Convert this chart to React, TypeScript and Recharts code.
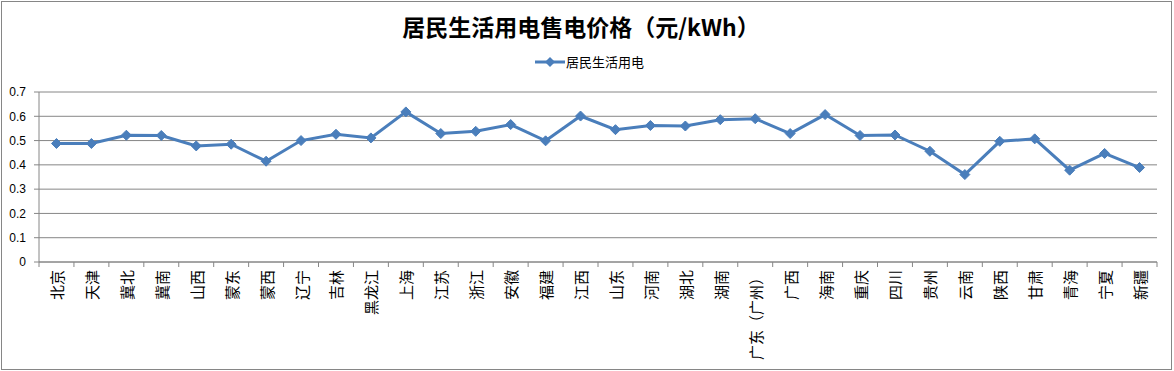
import { CartesianGrid, Line, LineChart, XAxis, YAxis } from "recharts";

const provinces = [
  "北京", "天津", "冀北", "冀南", "山西", "蒙东", "蒙西", "辽宁", "吉林", "黑龙江", "上海",
  "江苏", "浙江", "安徽", "福建", "江西", "山东", "河南", "湖北", "湖南", "广东（广州）",
  "广西", "海南", "重庆", "四川", "贵州", "云南", "陕西", "甘肃", "青海", "宁夏", "新疆",
];

const prices = [
  0.488, 0.488, 0.522, 0.521, 0.478, 0.485, 0.415, 0.5, 0.526, 0.511, 0.618,
  0.529, 0.538, 0.566, 0.499, 0.601, 0.545, 0.562, 0.56, 0.586, 0.59,
  0.529, 0.607, 0.521, 0.523, 0.456, 0.36, 0.497, 0.507, 0.378, 0.447, 0.389,
];

const yTicks = [0, 0.1, 0.2, 0.3, 0.4, 0.5, 0.6, 0.7];

const seriesName = "居民生活用电";
const title = "居民生活用电售电价格（元/kWh）";

const data = provinces.map((name, i) => ({ name, v: prices[i] }));

const BLUE = "#4A7EBB";
const GRID = "#868686";
const CJK = '"Noto Sans CJK SC", "Noto Sans", sans-serif';

const W = 1169;
const H = 367;
const M = { top: 90, right: 14, bottom: 0, left: 0 };
const Y_W = 37;
const X_H = 107;
const STEP = (W - M.left - M.right - Y_W) / provinces.length;

function Diamond(props: any) {
  const { cx, cy } = props;
  if (cx == null || cy == null) return null;
  const r = 5;
  return (
    <path
      d={`M${cx},${cy - r} L${cx + r},${cy} L${cx},${cy + r} L${cx - r},${cy} Z`}
      fill={BLUE}
      stroke={BLUE}
    />
  );
}

function XTick(props: any) {
  const { x, y, payload, index } = props;
  const axisY = y - 10;
  return (
    <g>
      <line x1={x - STEP / 2} x2={x - STEP / 2} y1={axisY} y2={axisY + 5} stroke={GRID} />
      {index === provinces.length - 1 && (
        <line x1={x + STEP / 2} x2={x + STEP / 2} y1={axisY} y2={axisY + 5} stroke={GRID} />
      )}
      <text
        transform={`translate(${x},${axisY + 8}) rotate(-90)`}
        textAnchor="end"
        dominantBaseline="central"
        fontFamily={CJK}
        fontSize={15}
        fill="#000"
      >
        {payload.value}
      </text>
    </g>
  );
}

export default function App() {
  return (
    <div
      style={{
        position: "absolute",
        left: 1,
        top: 1,
        width: 1171,
        height: 369,
        boxSizing: "border-box",
        border: `1px solid ${GRID}`,
        background: "#fff",
      }}
    >
      <style>{"body{margin:0}"}</style>
      <div
        style={{
          position: "absolute",
          left: 0,
          width: W,
          top: 9,
          textAlign: "center",
          fontFamily: CJK,
          fontWeight: 700,
          fontSize: 23,
          lineHeight: "30px",
          color: "#000",
          paddingRight: 11,
          boxSizing: "border-box",
        }}
      >
        {title}
      </div>
      <div
        style={{
          position: "absolute",
          left: 0,
          top: 51,
          width: W,
          display: "flex",
          alignItems: "center",
          justifyContent: "center",
          fontFamily: CJK,
          fontSize: 13,
          lineHeight: "18px",
          color: "#000",
          paddingLeft: 6,
          boxSizing: "border-box",
        }}
      >
        <svg width={30} height={12}>
          <line x1={0} x2={30} y1={6} y2={6} stroke={BLUE} strokeWidth={3} />
          <path d="M15,1 L20,6 L15,11 L10,6 Z" fill={BLUE} />
        </svg>
        <span style={{ marginLeft: 1 }}>{seriesName}</span>
      </div>
      <LineChart width={W} height={H} data={data} margin={M}>
        <CartesianGrid vertical={false} stroke={GRID} strokeDasharray="" />
        <XAxis
          dataKey="name"
          interval={0}
          height={X_H}
          padding={{ left: STEP / 2, right: STEP / 2 }}
          axisLine={{ stroke: GRID }}
          tickLine={false}
          tickSize={5}
          tickMargin={5}
          tick={<XTick />}
        />
        <YAxis
          width={Y_W}
          domain={[0, 0.7]}
          ticks={yTicks}
          interval={0}
          axisLine={{ stroke: GRID }}
          tickLine={{ stroke: GRID }}
          tickSize={5}
          tickMargin={8}
          tick={{ fill: "#000", fontSize: 12, fontFamily: "Liberation Sans, Arial, sans-serif" }}
          tickFormatter={(v: number) => String(Number(v.toFixed(1)))}
        />
        <Line
          dataKey="v"
          name={seriesName}
          stroke={BLUE}
          strokeWidth={3}
          dot={<Diamond />}
          activeDot={false}
          isAnimationActive={false}
        />
      </LineChart>
    </div>
  );
}
